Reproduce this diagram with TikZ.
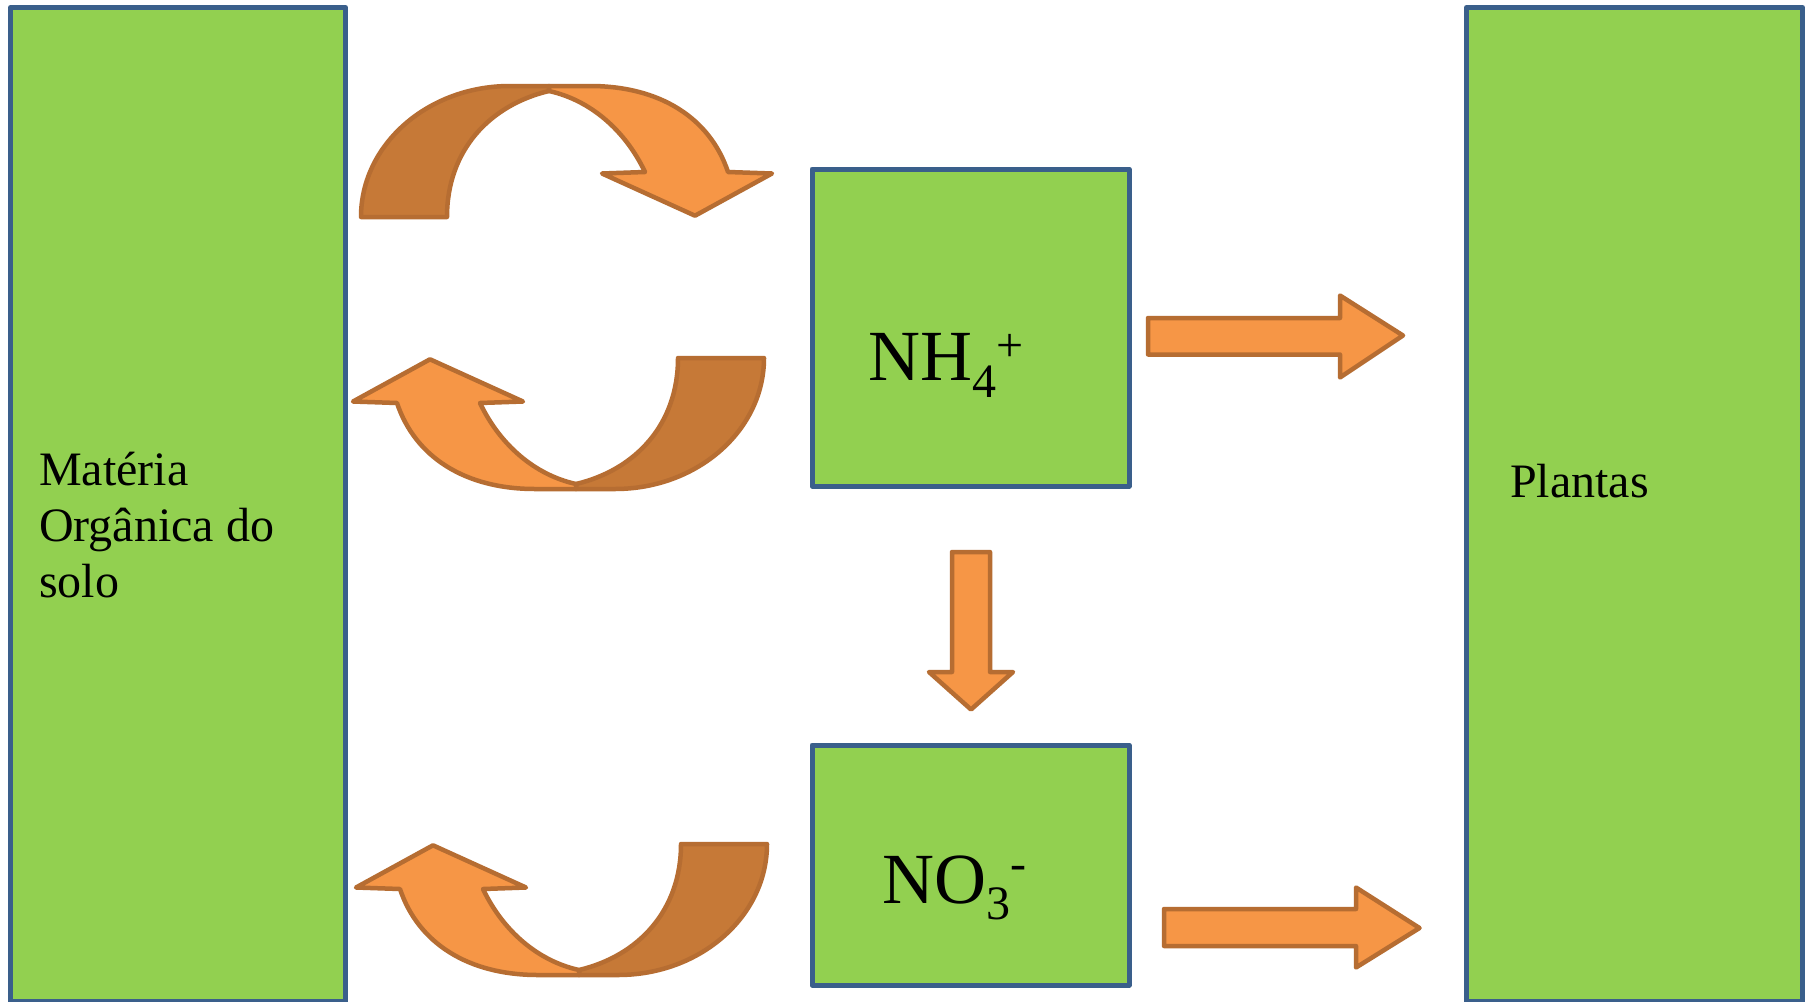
\documentclass[tikz,border=0pt]{standalone}
\usepackage{fontspec}
\setmainfont{Liberation Serif}
\definecolor{boxgreen}{HTML}{92D050}
\definecolor{boxblue}{HTML}{3A5F8B}
\definecolor{arrlight}{HTML}{F69646}
\definecolor{arrdark}{HTML}{C67937}
\definecolor{arrline}{HTML}{B66D32}
\tikzset{
  greenbox/.style={rectangle, draw=boxblue, fill=boxgreen, line width=5pt, inner sep=0pt, line join=round},
  blockarrow/.style={draw=arrline, fill=arrlight, line width=4.5pt, line join=round},
  darkpart/.style={draw=arrline, fill=arrdark, line width=4.5pt, line join=round},
  lbl/.style={inner sep=0pt, anchor=base west, font=\fontsize{48}{56}\selectfont},
  chem/.style={inner sep=0pt, anchor=base west, font=\fontsize{72}{80}\selectfont},
  curvedarrow/.pic={
    \path[darkpart] (-205.5,65.5) .. controls (-205.5,-6.9) and (-138.8,-65.5) .. (-56.5,-65.5)
      -- (-17.5,-65.5) -- (-17.5,-60.5)
      .. controls (-76.5,-46.5) and (-119.5,-1.5) .. (-119.5,65.5) -- cycle;
    \path[blockarrow] (-17.5,-60.5) .. controls (23.5,-51.5) and (58.5,-21.5) .. (78.5,20.5)
      -- (35.5,22) -- (128.5,64.2) -- (205.5,22) -- (161.5,20.5)
      .. controls (143.5,-33.5) and (93.5,-65.5) .. (23.5,-65.5) -- (-17.5,-65.5) -- cycle;
  }
}
\begin{document}
\begin{tikzpicture}[x=1pt,y=-1pt]
  \fill[white] (0,0) rectangle (1806,1001);
  \useasboundingbox (0,0) rectangle (1806,1001);

  % boxes
  \node[greenbox, minimum width=335pt, minimum height=994pt] (mos) at (178,504.5) {};
  \node[greenbox, minimum width=336pt, minimum height=994pt] (plantas) at (1634.5,504.5) {};
  \node[greenbox, minimum width=317pt, minimum height=317pt] (nh4) at (970.5,327.5) {};
  \node[greenbox, minimum width=317pt, minimum height=240pt] (no3) at (970.5,865) {};

  % texts
  \node[lbl] (mostext) at (39,485) {\begin{tabular}[t]{@{}l@{}}Matéria\\Orgânica do\\solo\end{tabular}};
  \node[lbl] (pltext) at (1510,497) {Plantas};
  \node[chem] (nh4text) at (868,380) {NH\raisebox{-17pt}{\fontsize{48}{48}\selectfont 4}\raisebox{19pt}{\fontsize{48}{48}\selectfont +}};
  \node[chem] (no3text) at (882,903) {NO\raisebox{-16pt}{\fontsize{48}{48}\selectfont 3}\raisebox{24pt}{\fontsize{48}{48}\selectfont -}};

  % curved arrows
  \pic (arrA) at (566.5,151.5) {curvedarrow};
  \pic[rotate=180] (arrB) at (558.5,423.5) {curvedarrow};
  \pic[rotate=180] (arrC) at (561.5,909.5) {curvedarrow};

  % straight block arrows
  \draw[blockarrow] (1148,318) -- (1340,318) -- (1340,295.5) -- (1403,335.5) -- (1340,377.5) -- (1340,354.5) -- (1148,354.5) -- cycle;
  \draw[blockarrow] (952,552) -- (990,552) -- (990,672) -- (1013,672) -- (971,709.5) -- (929,672) -- (952,672) -- cycle;
  \draw[blockarrow] (1164,909) -- (1356,909) -- (1356,887.5) -- (1419.5,928) -- (1356,967.5) -- (1356,946) -- (1164,946) -- cycle;
\end{tikzpicture}
\end{document}
